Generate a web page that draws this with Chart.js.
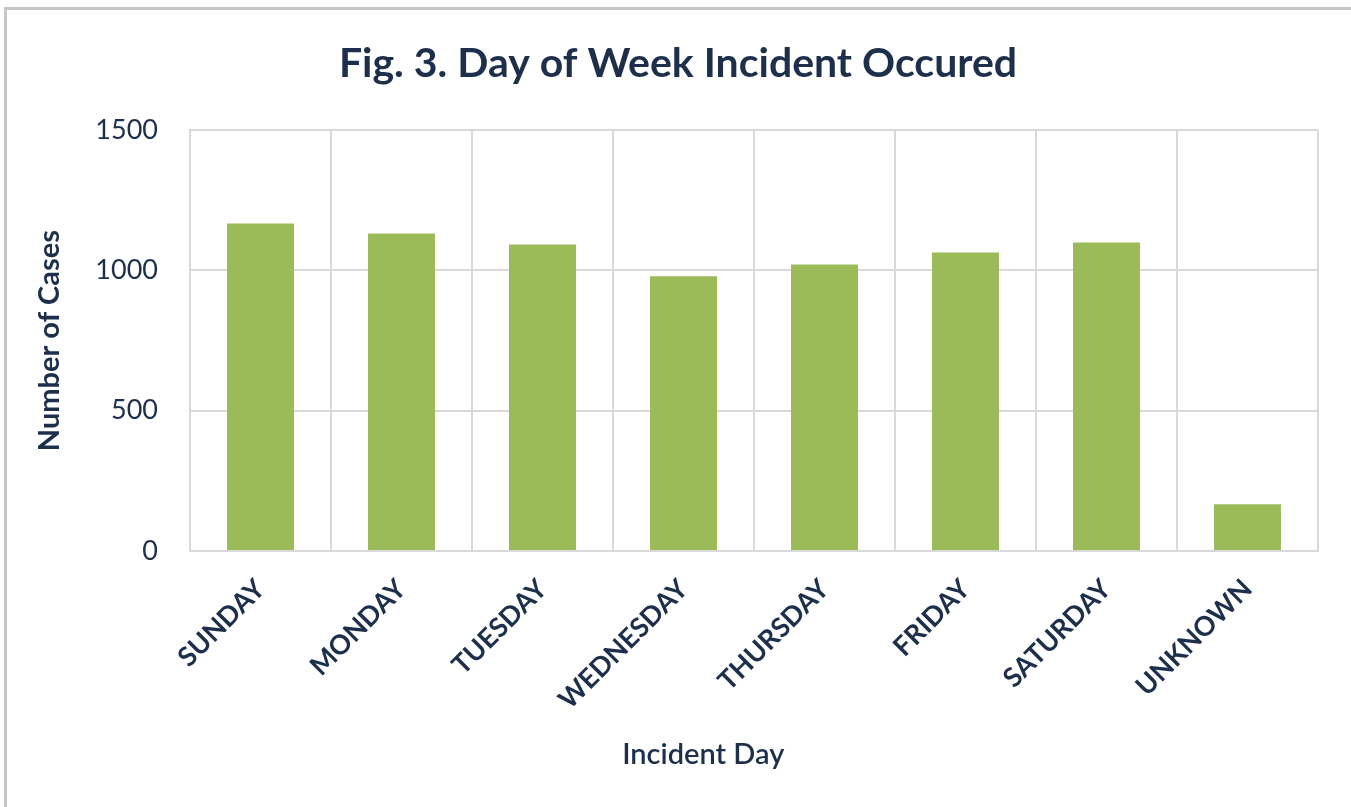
<!DOCTYPE html>
<html>
<head>
<meta charset="utf-8">
<script src="https://cdn.jsdelivr.net/npm/chart.js@4/dist/chart.umd.min.js"></script>
<style>
  html, body { margin: 0; padding: 0; background: #fff; }
  #wrap { position: relative; width: 1351px; height: 807px; overflow: hidden; }
  #frame { position: absolute; left: 4px; top: 7px; width: 1400px; height: 900px;
           border-top: 3px solid #c6c6c6; border-left: 3px solid #c6c6c6; }
  canvas { position: absolute; left: 0; top: 0; }
</style>
</head>
<body>
<div id="wrap">
  <div id="frame"></div>
  <canvas id="myChart" width="1351" height="807"></canvas>
</div>
<script>
const days = ['SUNDAY', 'MONDAY', 'TUESDAY', 'WEDNESDAY', 'THURSDAY', 'FRIDAY', 'SATURDAY', 'UNKNOWN']
const cases = [1167, 1132, 1093, 979, 1021, 1064, 1100, 167]
const yTicks = [0, 500, 1000, 1500]

const navy = '#1d2f4b'
const ctx = document.getElementById('myChart')

// x axis title sits a bit left of centre in the original, so draw it here
const xTitle = {
    id: 'xTitle',
    afterDraw(chart) {
        const c = chart.ctx
        const area = chart.chartArea
        c.save()
        c.fillStyle = navy
        c.font = '600 29px Lato'
        c.textAlign = 'center'
        c.textBaseline = 'middle'
        c.fillText('Incident Day', area.left + (area.right - area.left) * 0.455, 755)
        c.restore()
    }
}

const config = {
    type: 'bar',
    data: {
        labels: days,
        datasets: [
            {
                label: 'Number of Cases',
                backgroundColor: '#9bbb59',
                data: cases,
                categoryPercentage: 1,
                barPercentage: 0.475,
            },
        ],
    },
    options: {
        responsive: false,
        animation: false,
        layout: {
            padding: { left: 38, right: 33, top: 0, bottom: 0 }
        },
        scales: {
            x: {
                afterFit(axis) { axis.height = 256 },
                grid: {
                    color: '#d9d9d9',
                    lineWidth: 2,
                    drawTicks: false,
                },
                border: { color: '#d9d9d9', width: 2 },
                ticks: {
                    color: navy,
                    minRotation: 45,
                    maxRotation: 45,
                    padding: 22,
                    font: { family: 'Lato', size: 27, weight: 'bold' }
                },
            },
            y: {
                min: 0,
                max: 1500,
                afterFit(axis) { axis.width = 152 },
                afterBuildTicks(axis) {
                    axis.ticks = yTicks.map(v => ({ value: v }))
                },
                grid: {
                    color: '#d9d9d9',
                    lineWidth: 2,
                    drawTicks: false,
                },
                border: { color: '#d9d9d9', width: 2 },
                ticks: {
                    color: navy,
                    padding: 32,
                    font: { family: 'Lato', size: 27 },
                    callback: v => String(v)
                },
                title: {
                    display: true,
                    text: 'Number of Cases',
                    color: navy,
                    padding: { top: -6, bottom: 0 },
                    font: { family: 'Lato', size: 29, weight: 'bold' }
                },
            },
        },
        plugins: {
            legend: { display: false },
            tooltip: { enabled: false },
            title: {
                display: true,
                text: 'Fig. 3. Day of Week Incident Occured',
                color: navy,
                padding: { top: 39, bottom: 42 },
                font: { family: 'Lato', size: 41, weight: 'bold' }
            },
        },
    },
    plugins: [xTitle],
}
const chart1 = new Chart(ctx, config)
</script>
</body>
</html>
